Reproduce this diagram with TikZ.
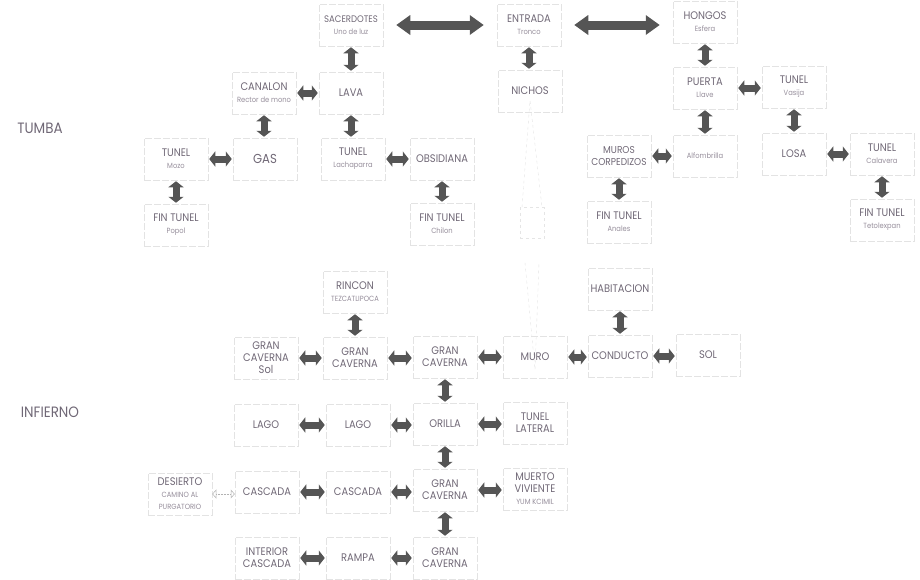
\documentclass[tikz,border=0pt]{standalone}
\usepackage{fontspec}
\setmainfont[FakeStretch=0.9]{Poppins}
\usetikzlibrary{arrows.meta,calc}
\definecolor{txtgray}{RGB}{112,104,118}
\definecolor{subgray}{RGB}{150,142,155}
\definecolor{arrgray}{RGB}{85,85,85}
\def\subt#1{{\fontsize{7.5}{8.5}\selectfont\color{subgray}#1}}

\begin{document}
\begin{tikzpicture}[x=1pt,y=-1pt,
	room/.style={draw=black!11, dash pattern=on 7pt off 2pt, line width=0.5pt, minimum width=64pt, minimum height=42pt, inner sep=1pt, align=center, text=txtgray, font=\fontsize{11}{12}\selectfont},
	ghostbox/.style={draw=black!10, dashed, line width=0.4pt, minimum width=24pt, minimum height=31pt, inner sep=0pt},
	link/.style={arrgray, line width=7pt, {Triangle[width=15pt,length=6pt]}-{Triangle[width=15pt,length=6pt]}, shorten <=1pt, shorten >=1pt},
	biglink/.style={arrgray, line width=9pt, {Triangle[width=19pt,length=14pt]}-{Triangle[width=19pt,length=14pt]}, shorten <=13pt, shorten >=13pt},
	ghost/.style={draw=black!11, dashed, line width=0.4pt},
	title/.style={text=txtgray, font=\fontsize{15}{17}\selectfont}]
		%%%%% START %%%%%
		\useasboundingbox (0,0) rectangle (920,579);
		
		\node[title] (tumba) at (40,128) {TUMBA};
		\node[title] (infierno) at (50,412) {INFIERNO};
		
		% tumba
		\node[room, font=\fontsize{9.5}{12}\selectfont] (sac) at (351,25) {SACERDOTES\\\subt{Uno de luz}};
		\node[room] (ent) at (529,25) {ENTRADA\\\subt{Tronco}};
		\node[room] (hon) at (705,22) {HONGOS\\\subt{Esfera}};
		
		\node[room] (can) at (264,93) {CANALON\\\subt{Rector de mono}};
		\node[room] (lava) at (351,93) {LAVA};
		\node[room] (nich) at (530,91) {NICHOS};
		\node[room] (pue) at (705,88) {PUERTA\\\subt{Llave}};
		\node[room] (tvas) at (794,87) {TUNEL\\\subt{Vasija}};
		
		\node[room] (tmoz) at (176,159) {TUNEL\\\subt{Mozo}};
		\node[room, font=\fontsize{13}{14}\selectfont] (gas) at (265,159) {GAS};
		\node[room] (tlac) at (353,159) {TUNEL\\\subt{Lachaparra}};
		\node[room] (obs) at (442,159) {OBSIDIANA};
		\node[room, font=\fontsize{10}{11.5}\selectfont] (mur) at (619,156) {MUROS\\CORPEDIZOS};
		\node[room] (alf) at (705,156) {\subt{Alfombrilla}};
		\node[room] (losa) at (794,154) {LOSA};
		\node[room] (tcal) at (882,154) {TUNEL\\\subt{Calavera}};
		
		\node[room] (fpop) at (176,225) {FIN TUNEL\\\subt{Popol}};
		\node[room] (fchi) at (442,224) {FIN TUNEL\\\subt{Chilon}};
		\node[ghostbox] (nada) at (532,223) {};
		\node[room] (fana) at (619,222) {FIN TUNEL\\\subt{Anales}};
		\node[room] (ftet) at (882,220) {FIN TUNEL\\\subt{Tetolexpan}};
		
		\draw[biglink] (sac.east) -- (sac.east -| ent.west);
		\draw[biglink] (ent.east) -- (ent.east -| hon.west);
		
		\draw[link] (sac.south) -- (sac.south |- lava.north);
		\draw[link] (can.east) -- (can.east -| lava.west);
		\draw[link] (lava.south) -- (lava.south |- tlac.north);
		\draw[link] (can.south) -- (can.south |- gas.north);
		\draw[link] (tmoz.east) -- (tmoz.east -| gas.west);
		\draw[link] (tmoz.south) -- (tmoz.south |- fpop.north);
		\draw[link] (tlac.east) -- (tlac.east -| obs.west);
		\draw[link] (obs.south) -- (obs.south |- fchi.north);
		\draw[link] (ent.south) -- (ent.south |- nich.north);
		\draw[link] (hon.south) -- (hon.south |- pue.north);
		\draw[link] (pue.east) -- (pue.east -| tvas.west);
		\draw[link] (pue.south) -- (pue.south |- alf.north);
		\draw[link] (mur.east) -- (mur.east -| alf.west);
		\draw[link] (mur.south) -- (mur.south |- fana.north);
		\draw[link] (tvas.south) -- (tvas.south |- losa.north);
		\draw[link] (losa.east) -- (losa.east -| tcal.west);
		\draw[link] (tcal.south) -- (tcal.south |- ftet.north);
		
		\draw[ghost] ([xshift=-10pt]nada.north) -- ([yshift=12pt]nich.south) -- ([xshift=10pt]nada.north);
		
		% infierno
		\node[room] (rinc) at (355,292) {RINCON\\\subt{TEZCATLIPOCA}};
		\node[room] (hab) at (620,289) {HABITACION};
		
		\node[room] (gcsol) at (266,358) {GRAN\\CAVERNA\\Sol};
		\node[room] (gca) at (355,358) {GRAN\\CAVERNA};
		\node[room] (gcb) at (445,357) {GRAN\\CAVERNA};
		\node[room] (muro) at (535,357) {MURO};
		\node[room] (cond) at (620,356) {CONDUCTO};
		\node[room] (sol) at (708,355) {SOL};
		
		\node[room] (lagoa) at (266,425) {LAGO};
		\node[room] (lagob) at (358,425) {LAGO};
		\node[room] (ori) at (445,424) {ORILLA};
		\node[room] (tlat) at (535,423) {TUNEL\\LATERAL};
		
		\node[room] (des) at (180,494) {DESIERTO\\\subt{CAMINO AL}\\\subt{PURGATORIO}};
		\node[room] (casa) at (267,492) {CASCADA};
		\node[room] (casb) at (358,492) {CASCADA};
		\node[room] (gcc) at (445,490) {GRAN\\CAVERNA};
		\node[room] (muer) at (535,489) {MUERTO\\VIVIENTE\\\subt{YUM KCIMIL}};
		
		\node[room] (inte) at (267,558) {INTERIOR\\CASCADA};
		\node[room] (ramp) at (358,558) {RAMPA};
		\node[room] (gcd) at (445,558) {GRAN\\CAVERNA};
		
		\draw[ghost] ([xshift=-7pt,yshift=-24pt]nada.south) -- ([yshift=-34pt]muro.north) -- ([xshift=7pt,yshift=-24pt]nada.south);
		
		\draw[link] (rinc.south) -- (rinc.south |- gca.north);
		\draw[link] (gcsol.east) -- (gcsol.east -| gca.west);
		\draw[link] (gca.east) -- (gca.east -| gcb.west);
		\draw[link] (gcb.east) -- (gcb.east -| muro.west);
		\draw[link] (muro.east) -- (muro.east -| cond.west);
		\draw[link] (cond.east) -- (cond.east -| sol.west);
		\draw[link] (hab.south) -- (hab.south |- cond.north);
		\draw[link] (gcb.south) -- (gcb.south |- ori.north);
		\draw[link] (lagoa.east) -- (lagoa.east -| lagob.west);
		\draw[link] (lagob.east) -- (lagob.east -| ori.west);
		\draw[link] (ori.east) -- (ori.east -| tlat.west);
		\draw[link] (ori.south) -- (ori.south |- gcc.north);
		\draw[link] (casa.east) -- (casa.east -| casb.west);
		\draw[link] (casb.east) -- (casb.east -| gcc.west);
		\draw[link] (gcc.east) -- (gcc.east -| muer.west);
		\draw[link] (gcc.south) -- (gcc.south |- gcd.north);
		\draw[link] (inte.east) -- (inte.east -| ramp.west);
		\draw[link] (ramp.east) -- (ramp.east -| gcd.west);
		
		\draw[black!30, densely dotted, line width=0.5pt, {Triangle[open,width=9pt,length=4pt]}-{Triangle[open,width=9pt,length=4pt]}] (des.east) -- (des.east -| casa.west);
		
		%%%%% END %%%%%
	\end{tikzpicture}
\end{document}
